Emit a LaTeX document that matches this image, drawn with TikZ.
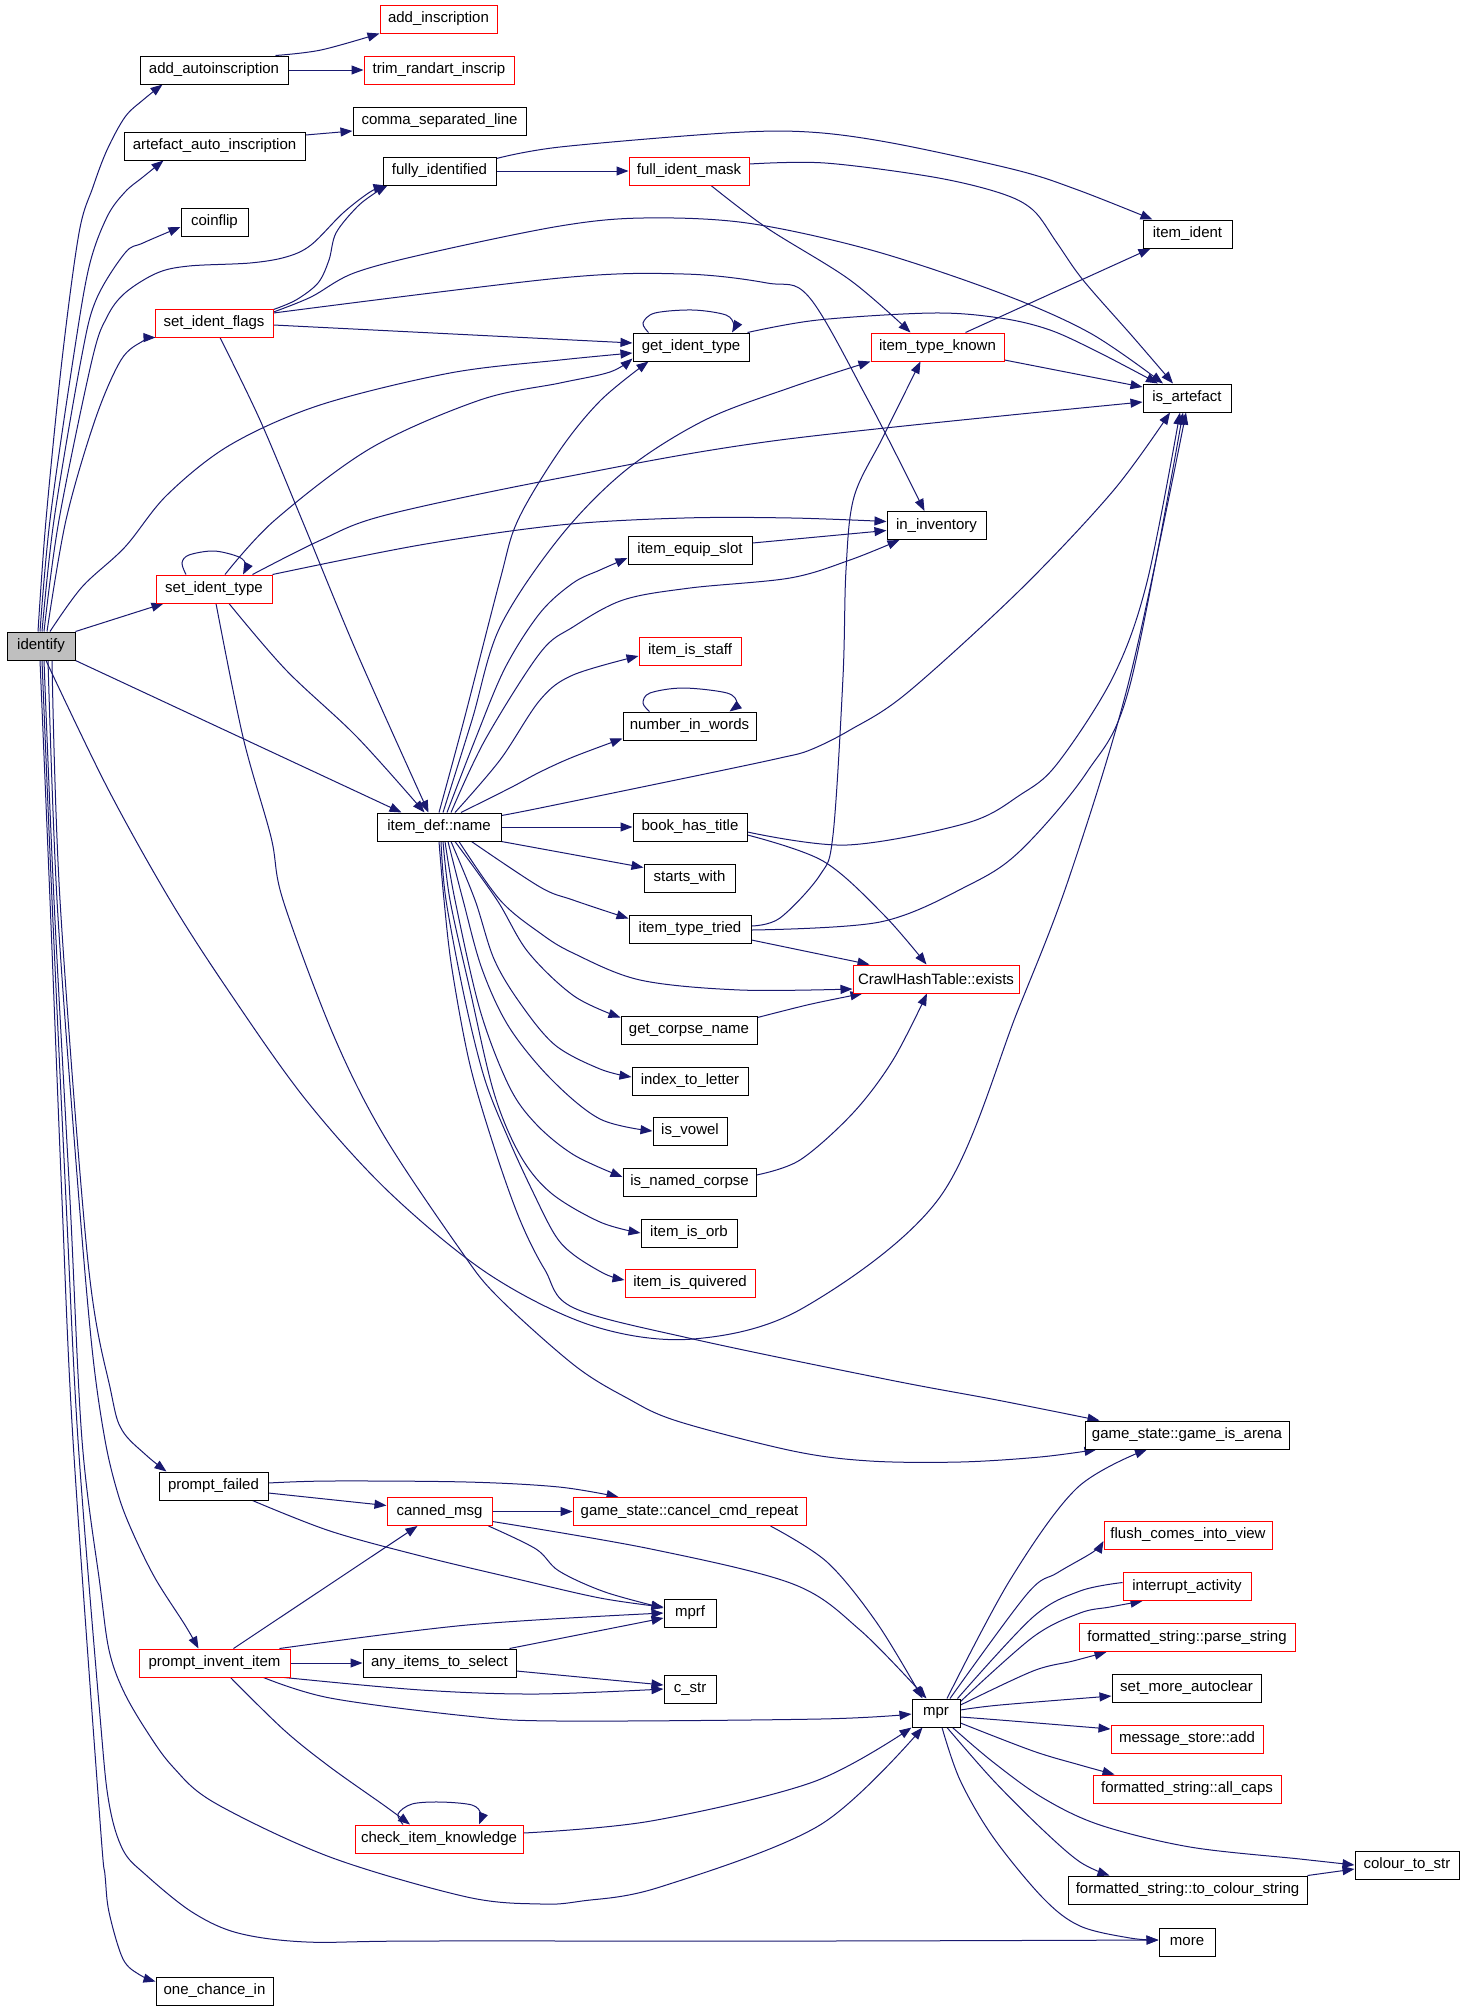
\documentclass[tikz,border=0pt]{standalone}
\usepackage{fontspec}
\setmainfont{Liberation Sans}
\usetikzlibrary{arrows.meta,calc,backgrounds}
\definecolor{edgeblue}{HTML}{191970}
\definecolor{idgray}{HTML}{BFBFBF}
\newcommand\edgeplot[1]{\draw[edg] plot[smooth,tension=0.55] coordinates {#1};}
\newcommand\edgeplotn[1]{\draw[edgn] plot[smooth,tension=0.55] coordinates {#1};}
\tikzset{
  nb/.style={draw=black, line width=0.5pt, fill=white, minimum height=14pt, inner sep=0pt,
             font=\fontsize{7.5pt}{9pt}\selectfont},
  rb/.style={nb, draw=red},
  edgn/.style={draw=edgeblue, line width=0.5pt},
  edg/.style={edgn, -{Triangle[length=6pt,width=4.5pt]}}
}
\begin{document}
\begin{tikzpicture}[x=0.5pt,y=-0.5pt]
\useasboundingbox (0,0) rectangle (1464,2009);
% nodes
\node[nb, fill=idgray, minimum width=34pt] (identify) at (41,646) {identify};
\node[nb, minimum width=74pt] (addauto) at (214,70) {add\_autoinscription};
\node[rb, minimum width=58.5pt] (addinsc) at (438.5,19) {add\_inscription};
\node[rb, minimum width=75pt] (trim) at (439,70) {trim\_randart\_inscrip};
\node[nb, minimum width=90.5pt] (artauto) at (214.5,146) {artefact\_auto\_inscription};
\node[nb, minimum width=86.5pt] (comma) at (439.5,121) {comma\_separated\_line};
\node[nb, minimum width=33.5pt] (coinflip) at (214.5,222) {coinflip};
\node[nb, minimum width=56.5pt] (fullyid) at (439.5,171) {fully\_identified};
\node[rb, minimum width=60pt] (fim) at (689,171) {full\_ident\_mask};
\node[nb, minimum width=44.5pt] (itemident) at (1187.5,234) {item\_ident};
\node[rb, minimum width=59pt] (sif) at (214,323) {set\_ident\_flags};
\node[nb, minimum width=58pt] (git) at (691,347) {get\_ident\_type};
\node[rb, minimum width=66.5pt] (itk) at (937.5,347) {item\_type\_known};
\node[nb, minimum width=44pt] (isart) at (1187,398) {is\_artefact};
\node[nb, minimum width=49.5pt] (ininv) at (936.5,525.5) {in\_inventory};
\node[nb, minimum width=62pt] (ies) at (690,550) {item\_equip\_slot};
\node[rb, minimum width=58pt] (sit) at (214,589) {set\_ident\_type};
\node[rb, minimum width=51pt] (iis) at (690,651) {item\_is\_staff};
\node[nb, minimum width=66.5pt] (niw) at (689.5,726) {number\_in\_words};
\node[nb, minimum width=62pt] (idn) at (439,827) {item\_def::name};
\node[nb, minimum width=57pt] (bht) at (690,827) {book\_has\_title};
\node[nb, minimum width=45.5pt] (sw) at (689.5,878) {starts\_with};
\node[nb, minimum width=61pt] (itt) at (690,929) {item\_type\_tried};
\node[rb, minimum width=83pt] (chte) at (936,979) {CrawlHashTable::exists};
\node[nb, minimum width=68pt] (gcn) at (689,1030) {get\_corpse\_name};
\node[nb, minimum width=58pt] (itl) at (690,1081) {index\_to\_letter};
\node[nb, minimum width=37pt] (isv) at (690,1131) {is\_vowel};
\node[nb, minimum width=66.5pt] (inc) at (689.5,1182) {is\_named\_corpse};
\node[nb, minimum width=48pt] (iio) at (689,1233) {item\_is\_orb};
\node[rb, minimum width=65pt] (iiq) at (690,1283) {item\_is\_quivered};
\node[nb, minimum width=102pt] (gia) at (1187,1435) {game\_state::game\_is\_arena};
\node[nb, minimum width=54.5pt] (pf) at (213.5,1486) {prompt\_failed};
\node[rb, minimum width=52.5pt] (cm) at (439.5,1511.5) {canned\_msg};
\node[rb, minimum width=116.5pt] (ccr) at (689.5,1511.5) {game\_state::cancel\_cmd\_repeat};
\node[nb, minimum width=26pt] (mprf) at (690,1613) {mprf};
\node[rb, minimum width=75.5pt] (pii) at (214.5,1663) {prompt\_invent\_item};
\node[nb, minimum width=76.5pt] (aits) at (439.5,1663) {any\_items\_to\_select};
\node[nb, minimum width=26pt] (cstr) at (690,1689) {c\_str};
\node[nb, minimum width=24pt] (mpr) at (936,1713) {mpr};
\node[rb, minimum width=84pt] (cik) at (439,1839) {check\_item\_knowledge};
\node[nb, minimum width=58.5pt] (oci) at (214.5,1991) {one\_chance\_in};
\node[rb, minimum width=84pt] (fciv) at (1188,1535) {flush\_comes\_into\_view};
\node[rb, minimum width=64pt] (ia) at (1187,1586.5) {interrupt\_activity};
\node[rb, minimum width=108pt] (fsps) at (1187,1637.5) {formatted\_string::parse\_string};
\node[nb, minimum width=74.5pt] (sma) at (1186.5,1688) {set\_more\_autoclear};
\node[rb, minimum width=76pt] (msa) at (1187,1739) {message\_store::add};
\node[rb, minimum width=94pt] (fsac) at (1187,1789) {formatted\_string::all\_caps};
\node[nb, minimum width=52pt] (cts) at (1407,1865) {colour\_to\_str};
\node[nb, minimum width=119.5pt] (fstcs) at (1187.5,1890) {formatted\_string::to\_colour\_string};
\node[nb, minimum width=28pt] (more) at (1187,1942) {more};
\begin{pgfonlayer}{background}
\fill[white] (0,0) rectangle (1464,2009);
% identify upward
\edgeplot{($(identify.north)+(-3,0)$) (46,520) (62,360) (79,233) (93,187) (107,150) (125,117) (143,100) ($(addauto.south west)+(23,0)$)}
\edgeplot{($(identify.north)+(-1,0)$) (50,520) (73,360) (89,267) (107,217) (125,192) (143,177) ($(artauto.south west)+(40,0)$)}
\edgeplot{($(identify.north)+(1,0)$) (54,520) (81,360) (96,300) (125,253) (143,243) ($(coinflip.west)+(0,5)$)}
\edgeplot{($(identify.north)+(3,0)$) (59,520) (92,360) (107,317) (125,293) (157,273) (189,266) (250,263) (286,257) (311,245) (343,213) (370,192) ($(fullyid.south west)+(3,0)$)}
\edgeplot{($(identify.north)+(6,0)$) (66,520) (95,420) (121,360) (143,341) ($(sif.south west)+(1,0)$)}
\edgeplot{($(identify.north)+(9,0)$) (82,587) (125,547) (167,495) (230,445) (320,405) (450,373) (560,360) ($(git.west)+(0,6)$)}
\draw[edg] (identify.north east) -- ($(sit.south west)+(8,0)$);
\draw[edg] (identify.south east) -- ($(idn.north west)+(25,0)$);
% identify downward
\edgeplot{($(identify.south)+(5,0)$) (107,787) (170,900) (230,993) (306,1100) (390,1193) (490,1275) (593,1326) (693,1339) (803,1308) (940,1197) (1018,1010) (1070,875) (1130,677) ($(isart.south)+(-1,0)$)}
\edgeplot{($(identify.south)+(11,0)$) (60,900) (88,1262) (111,1392) (122,1430) (146,1455) ($(pf.north west)+(8,0)$)}
\edgeplot{($(identify.south)+(7,0)$) (57,900) (77,1175) (92,1348) (105,1440) (118,1494) (132,1531) (155,1578) (185,1625) ($(pii.north)+(-16,0)$)}
\edgeplot{($(identify.south)+(3,0)$) (54,900) (70,1200) (82,1440) (100,1585) (109,1650) (123,1690) (146,1730) (173,1767) (215,1803) (330,1857) (467,1897) (541,1904) (582,1901) (660,1887) (820,1825) ($(mpr.south west)+(11,0)$)}
\edgeplot{($(identify.south)+(1,0)$) (52,900) (66,1200) (78,1440) (100,1716) (109,1803) (123,1850) (146,1875) (192,1912) (238,1933) (307,1942) (421,1941) (820,1941) ($(more.west)+(0,-2)$)}
\edgeplot{($(identify.south)+(-1,0)$) (50,900) (62,1200) (73,1440) (100,1821) (105,1875) (109,1912) (123,1959) (140,1975) ($(oci.north west)+(0,5)$)}
% set_ident_flags
\edgeplot{($(sif.north east)+(0,1)$) (296,300) (318,283) (329,260) (336,233) (357,207) (375,193) ($(fullyid.south west)+(5,0)$)}
\edgeplot{($(sif.east)+(0,-11)$) (311,297) (354,273) (429,253) (560,226) (643,218) (747,223) (871,250) (1000,293) (1090,333) ($(isart.north)+(-24,0)$)}
\edgeplot{($(sif.east)+(0,-10)$) (560,278) (684,274) (767,283) (809,297) (868,400) ($(ininv.north)+(-12,0)$)}
\draw[edg] ($(sif.east)+(0,2)$) -- ($(git.west)+(0,-4)$);
\edgeplot{($(sif.south)+(6,0)$) (260,420) (302,520) (357,653) ($(idn.north west)+(52,0)$)}
% fully_identified, full_ident_mask
\draw[edg] (fullyid) -- (fim);
\edgeplot{($(fullyid.north east)+(0,2)$) (560,147) (726,133) (809,132) (892,143) (1016,170) (1078,190) ($(itemident.north west)+(10,0)$)}
\edgeplot{($(fim.south)+(22,0)$) (767,228) (850,280) ($(itk.north)+(-27,0)$)}
\edgeplot{($(fim.east)+(0,-7)$) (825,163) (933,177) (1000,193) (1033,210) (1057,243) (1083,280) (1133,337) ($(isart.north)+(-14,0)$)}
% get_ident_type
\edgeplot{($(git.north west)+(16,0)$) (643,323) (655,313) (693,310) (726,315) (734,325) ($(git.north)+(41,0)$)}
\edgeplot{($(git.north east)+(-2,0)$) (818,320) (933,313) (1000,318) (1050,330) (1100,353) ($(isart.north)+(-29,0)$)}
% item_type_known
\draw[edg] ($(itk.north)+(28,0)$) -- ($(itemident.south west)+(8,0)$);
\draw[edg] ($(itk.east)+(0,13)$) -- ($(isart.west)+(0,-11)$);
% set_ident_type
\edgeplot{($(sit.north)+(-28,0)$) (182,563) (189,555) (214,551) (239,557) (246,565) ($(sit.north)+(29,0)$)}
\edgeplot{($(sit.north)+(11,0)$) (275,520) (371,448) (480,400) (560,383) (610,372) ($(git.south west)+(0,-3)$)}
\edgeplot{($(sit.north east)+(-20,0)$) (321,540) (386,515) (560,478) (780,440) ($(isart.west)+(0,4)$)}
\edgeplot{(sit.north east) (420,545) (560,525) (684,518) (792,518) ($(ininv.west)+(0,-4)$)}
\edgeplot{($(sit.south)+(15,0)$) (286,670) (357,737) ($(idn.north west)+(48,0)$)}
\edgeplot{($(sit.south)+(2,0)$) (243,737) (271,837) (283,900) (333,1034) (383,1134) (459,1248) (497,1296) (574,1365) (627,1398) (677,1421) (793,1451) (870,1461) (960,1462) (1040,1457) ($(gia.south west)+(12,0)$)}
% item_def::name upward
\edgeplot{($(idn.north)+(0,0)$) (464,720) (500,580) (518,520) (560,450) (601,400) ($(git.south west)+(16,0)$)}
\edgeplot{($(idn.north)+(4,0)$) (472,720) (500,627) (560,537) (626,470) (705,420) (792,387) (itk.south west)}
\edgeplot{($(idn.north)+(8,0)$) (475,740) (505,668) (540,613) (573,583) (600,570) ($(ies.west)+(0,8)$)}
\edgeplot{($(idn.north)+(12,0)$) (485,740) (540,653) (573,627) (623,600) (690,588) (790,578) (850,560) ($(ininv.south west)+(13,0)$)}
\edgeplot{($(idn.north)+(16,0)$) (500,760) (540,700) (573,675) ($(iis.west)+(0,5)$)}
\edgeplot{($(idn.north)+(22,0)$) (510,788) (540,772) (573,757) ($(niw.south west)+(0,-2)$)}
\edgeplot{($(idn.north east)+(0,3)$) (540,808) (700,775) (780,758) (810,750) (850,730) (907,693) (1020,590) (1113,491) ($(isart.south)+(-17,0)$)}
% item_def::name right / downward
\draw[edg] (idn) -- (bht);
\draw[edg] (idn.south east) -- ($(sw.north west)+(0,4)$);
\edgeplot{($(idn.south east)+(-30,0)$) (540,887) (573,900) ($(itt.north west)+(0,4)$)}
\edgeplot{($(idn.south)+(20,0)$) (500,900) (540,933) (573,953) (640,980) (740,990) ($(chte.west)+(0,10)$)}
\edgeplot{($(idn.south)+(16,0)$) (497,900) (528,952) (574,996) ($(gcn.north west)+(0,2)$)}
\edgeplot{($(idn.south)+(12,0)$) (475,900) (494,959) (520,1003) (555,1045) (600,1069) ($(itl.west)+(0,-4)$)}
\edgeplot{($(idn.south)+(9,0)$) (463,900) (482,969) (509,1027) (551,1079) (600,1119) (isv.west)}
\edgeplot{($(idn.south)+(6,0)$) (455,900) (480,1010) (509,1086) (536,1124) (574,1155) ($(inc.west)+(0,-5)$)}
\edgeplot{($(idn.south)+(4,0)$) (450,900) (470,990) (494,1093) (520,1155) (551,1193) (600,1222) (iio.west)}
\edgeplot{($(idn.south)+(2,0)$) (446,900) (465,1000) (485,1080) (509,1140) (532,1190) (555,1235) (574,1255) (605,1274) ($(iiq.west)+(0,-3)$)}
\edgeplot{(idn.south) (444,900) (452,969) (470,1065) (495,1150) (520,1220) (545,1270) (574,1308) (693,1339) (890,1380) (997,1400) ($(gia.north west)+(15,0)$)}
% book_has_title, item_type_tried, get_corpse_name, is_named_corpse
\edgeplot{($(bht.east)+(0,8)$) (823,861) (883,914) ($(chte.north west)+(74,0)$)}
\edgeplot{($(bht.east)+(0,5)$) (847,845) (967,823) (1020,795) (1057,764) (1113,677) (1147,582) ($(isart.south)+(-7,0)$)}
\edgeplot{($(itt.east)+(0,-3)$) (780,918) (820,875) (833,835) (843,677) (846,570) (854,497) (883,437) ($(itk.south)+(-17,0)$)}
\edgeplot{($(itt.east)+(0,1)$) (880,922) (967,886) (1020,851) (1087,772) (1130,685) ($(isart.south)+(-4,0)$)}
\draw[edg] ($(itt.east)+(0,11)$) -- ($(chte.north west)+(17,0)$);
\edgeplot{($(gcn.north east)+(0,2)$) (807,1005) (845,997) ($(chte.south west)+(10,0)$)}
\edgeplot{($(inc.east)+(0,-7)$) (800,1160) (853,1113) (893,1060) ($(chte.south)+(-9,0)$)}
\edgeplot{($(niw.north)+(-40,0)$) (643,703) (650,693) (683,688) (727,693) (737,703) ($(niw.north)+(40,0)$)}
\draw[edg] ($(ies.east)+(0,-7)$) -- ($(ininv.west)+(0,5)$);
% top
\edgeplot{($(addauto.north east)+(-13,0)$) (321,50) (addinsc.south west)}
\draw[edg] (addauto) -- (trim);
\draw[edg] ($(artauto.east)+(0,-11)$) -- ($(comma.west)+(0,10)$);
% bottom left
\edgeplot{($(pf.east)+(0,-3)$) (330,1481) (467,1482) (559,1487) ($(ccr.north west)+(46,0)$)}
\draw[edg] ($(pf.east)+(0,7)$) -- ($(cm.west)+(0,-6)$);
\edgeplot{($(pf.south east)+(-16,0)$) (330,1531) (421,1556) (513,1578) (600,1598) ($(mprf.west)+(0,-6)$)}
\draw[edg] (cm) -- (ccr);
\edgeplot{($(cm.south east)+(-4,0)$) (536,1549) (559,1571) (605,1592) ($(mprf.west)+(0,-5)$)}
\edgeplot{($(cm.east)+(0,10)$) (651,1549) (793,1584) (860,1630) ($(mpr.north west)+(15,0)$)}
\edgeplot{($(ccr.south)+(81,0)$) (827,1562) (877,1623) ($(mpr.north west)+(11,0)$)}
\draw[edg] ($(pii.north)+(19,0)$) -- ($(cm.south)+(-22,0)$);
\edgeplot{($(pii.north east)+(-11,0)$) (467,1625) (mprf.west)}
\draw[edg] (pii) -- (aits);
\edgeplot{($(pii.south east)+(-6,0)$) (421,1690) (536,1694) (cstr.west)}
\edgeplot{($(pii.south east)+(-27,0)$) (330,1698) (467,1716) (559,1721) (820,1719) ($(mpr.west)+(0,1)$)}
\edgeplot{($(pii.south)+(16,0)$) (284,1730) (330,1767) (385,1806) ($(cik.north)+(-29,0)$)}
\draw[edg] ($(aits.north east)+(-7,0)$) -- ($(mprf.west)+(0,5)$);
\draw[edg] ($(aits.east)+(0,8)$) -- ($(cstr.west)+(0,-4)$);
\edgeplot{($(cik.north)+(-36,0)$) (398,1814) (412,1804) (440,1802) (472,1805) (481,1814) ($(cik.north)+(40,0)$)}
\edgeplot{($(cik.east)+(0,-6)$) (651,1821) (813,1782) (mpr.south west)}
% mpr fan
\edgeplot{($(mpr.north)+(11,0)$) (1010,1580) (1077,1488) ($(gia.south)+(-40,0)$)}
\edgeplot{($(mpr.north)+(14,0)$) (1027,1594) (1057,1573) (1093,1552) ($(fciv.west)+(0,6)$)}
\edgeplotn{($(mpr.north east)+(-3,0)$) (1033,1617) (1080,1591) ($(ia.west)+(0,-4)$)}
\edgeplot{($(mpr.north east)+(0,3)$) (1033,1637) (1080,1613) (1110,1607) ($(ia.south west)+(20,0)$)}
\edgeplot{($(mpr.east)+(0,-8)$) (1033,1671) (1073,1661) ($(fsps.south west)+(28,0)$)}
\edgeplot{($(mpr.east)+(0,-3)$) (1000,1705) ($(sma.west)+(0,8)$)}
\edgeplot{($(mpr.east)+(0,4)$) (1000,1720) ($(msa.west)+(0,-10)$)}
\edgeplot{($(mpr.east)+(0,10)$) (1033,1751) (1080,1765) ($(fsac.north west)+(22,0)$)}
\edgeplot{($(mpr.south east)+(-8,0)$) (993,1762) (1043,1798) (1100,1825) (1190,1847) (1300,1859) (cts.west)}
\edgeplot{($(mpr.south)+(11,0)$) (993,1780) (1043,1830) (1080,1862) ($(fstcs.north west)+(42,0)$)}
\edgeplot{($(mpr.south)+(6,0)$) (960,1780) (993,1837) (1043,1898) (1080,1926) (1130,1938) ($(more.west)+(0,-2)$)}
\draw[edg] (fstcs.north east) -- ($(cts.west)+(0,4)$);
\end{pgfonlayer}
\end{tikzpicture}
\end{document}
